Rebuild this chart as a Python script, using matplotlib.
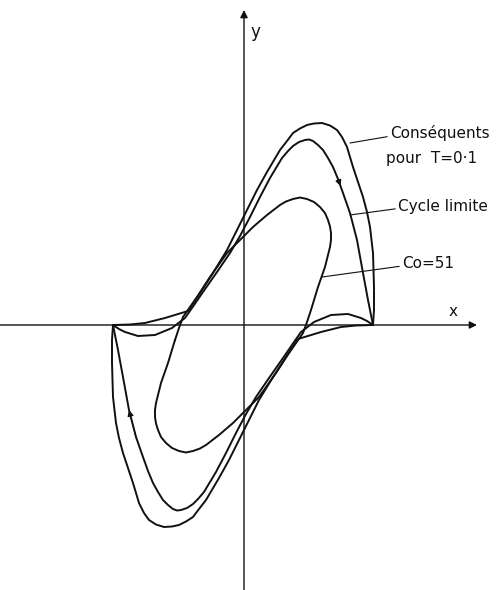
import numpy as np
import matplotlib
matplotlib.use("Agg")
import matplotlib.pyplot as plt

# Half of each closed orbit, from a point P to its mirror image -P.
# The orbits are symmetric with respect to the origin, so the other half is -half.

# Consequents for T = 0.1 (outermost curve)
outer_x = [-1.30, -1.13, -0.98, -0.78, -0.55, -0.43, -0.30, -0.16, -0.06, 0.04,
           0.14, 0.24, 0.37, 0.44, 0.50, 0.57, 0.64, 0.71, 0.79, 0.87,
           0.94, 0.99, 1.04, 1.07, 1.10, 1.15, 1.20, 1.24, 1.27, 1.30,
           1.31, 1.31, 1.30]
outer_y = [0.00, 0.005, 0.02, 0.07, 0.14, 0.32, 0.52, 0.75, 0.95, 1.15,
           1.35, 1.53, 1.75, 1.84, 1.92, 1.965, 2.00, 2.015, 2.02, 1.995,
           1.95, 1.88, 1.78, 1.68, 1.58, 1.43, 1.28, 1.13, 0.98, 0.72,
           0.38, 0.15, 0.00]

# Limit cycle
cycle_x = [-1.30, -1.24, -1.18, -1.05, -0.88, -0.71, -0.58, -0.51, -0.40, -0.26,
           -0.13, -0.03, 0.07, 0.17, 0.27, 0.39, 0.45, 0.50, 0.56, 0.62,
           0.66, 0.70, 0.75, 0.80, 0.85, 0.90, 0.95, 1.00, 1.07, 1.14,
           1.20, 1.25, 1.30]
cycle_y = [0.00, -0.04, -0.07, -0.11, -0.10, -0.03, 0.07, 0.17, 0.33, 0.53,
           0.72, 0.89, 1.08, 1.28, 1.47, 1.67, 1.74, 1.79, 1.83, 1.85,
           1.855, 1.84, 1.80, 1.75, 1.67, 1.58, 1.46, 1.32, 1.12, 0.85,
           0.52, 0.25, 0.00]

# Initial curve Co = 51
co_x = [-0.68, -0.64, -0.60, -0.53, -0.46, -0.33, -0.16, -0.03, 0.10, 0.24,
        0.37, 0.43, 0.50, 0.57, 0.64, 0.71, 0.77, 0.82, 0.85, 0.87,
        0.88, 0.88, 0.87, 0.82, 0.75, 0.68]
co_y = [-0.15, -0.03, 0.08, 0.18, 0.28, 0.48, 0.72, 0.85, 0.98, 1.10,
        1.20, 1.235, 1.26, 1.275, 1.26, 1.23, 1.18, 1.12, 1.05, 0.985,
        0.92, 0.85, 0.78, 0.58, 0.38, 0.15]


def full_orbit(xh, yh):
    xh = np.asarray(xh, dtype=float)
    yh = np.asarray(yh, dtype=float)
    return np.concatenate([xh, -xh[1:]]), np.concatenate([yh, -yh[1:]])


fig = plt.figure(figsize=(5.04, 5.90), dpi=100)
ax = fig.add_axes([0, 0, 1, 1])
ax.set_xlim(-2.43, 2.61)
ax.set_ylim(-2.65, 3.25)
ax.set_aspect("equal")
ax.axis("off")

ink = "#111111"
lw_curve = 1.4

# coordinate axes with arrowheads
ax.annotate("", xy=(2.34, 0), xytext=(-2.45, 0),
            arrowprops=dict(arrowstyle="-|>", lw=1.0, color=ink,
                            mutation_scale=11, shrinkA=0, shrinkB=0))
ax.annotate("", xy=(0.01, 3.15), xytext=(0.01, -2.66),
            arrowprops=dict(arrowstyle="-|>", lw=1.0, color=ink,
                            mutation_scale=11, shrinkA=0, shrinkB=0))
ax.text(2.10, 0.13, "x", fontsize=11, color=ink, ha="center", va="center")
ax.text(0.12, 2.93, "y", fontsize=12, color=ink, ha="center", va="center")

for xh, yh in ((outer_x, outer_y), (cycle_x, cycle_y), (co_x, co_y)):
    x, y = full_orbit(xh, yh)
    ax.plot(x, y, color=ink, lw=lw_curve, solid_joinstyle="round",
            solid_capstyle="round")

# direction arrows on the limit cycle (clockwise travel)
cx, cy = full_orbit(cycle_x, cycle_y)
n = len(cycle_x)
ax.annotate("", xy=((cx[26] + cx[27]) / 2, (cy[26] + cy[27]) / 2),
            xytext=(cx[26], cy[26]),
            arrowprops=dict(arrowstyle="-|>", lw=0.8, color=ink,
                            mutation_scale=9, shrinkA=0, shrinkB=0))
j = n - 1 + 28
ax.annotate("", xy=(cx[j + 1], cy[j + 1]), xytext=(cx[j], cy[j]),
            arrowprops=dict(arrowstyle="-|>", lw=0.8, color=ink,
                            mutation_scale=9, shrinkA=0, shrinkB=0))

# labels with leader lines
label_kw = dict(fontsize=11, color=ink, va="center", ha="left")
ax.annotate("Conséquents", xy=(1.07, 1.82), xytext=(1.47, 1.92),
            arrowprops=dict(arrowstyle="-", lw=0.8, color=ink,
                            shrinkA=0, shrinkB=0, relpos=(0, 0.3)), **label_kw)
ax.text(1.43, 1.67, "pour  T=0·1", **label_kw)
ax.annotate("Cycle limite", xy=(1.07, 1.10), xytext=(1.55, 1.18),
            arrowprops=dict(arrowstyle="-", lw=0.8, color=ink,
                            shrinkA=0, shrinkB=0, relpos=(0, 0.4)), **label_kw)
ax.annotate("Co=51", xy=(0.79, 0.48), xytext=(1.59, 0.62),
            arrowprops=dict(arrowstyle="-", lw=0.8, color=ink,
                            shrinkA=0, shrinkB=0, relpos=(0, 0.3)), **label_kw)

fig.savefig("out.png", dpi=100, facecolor="white")
